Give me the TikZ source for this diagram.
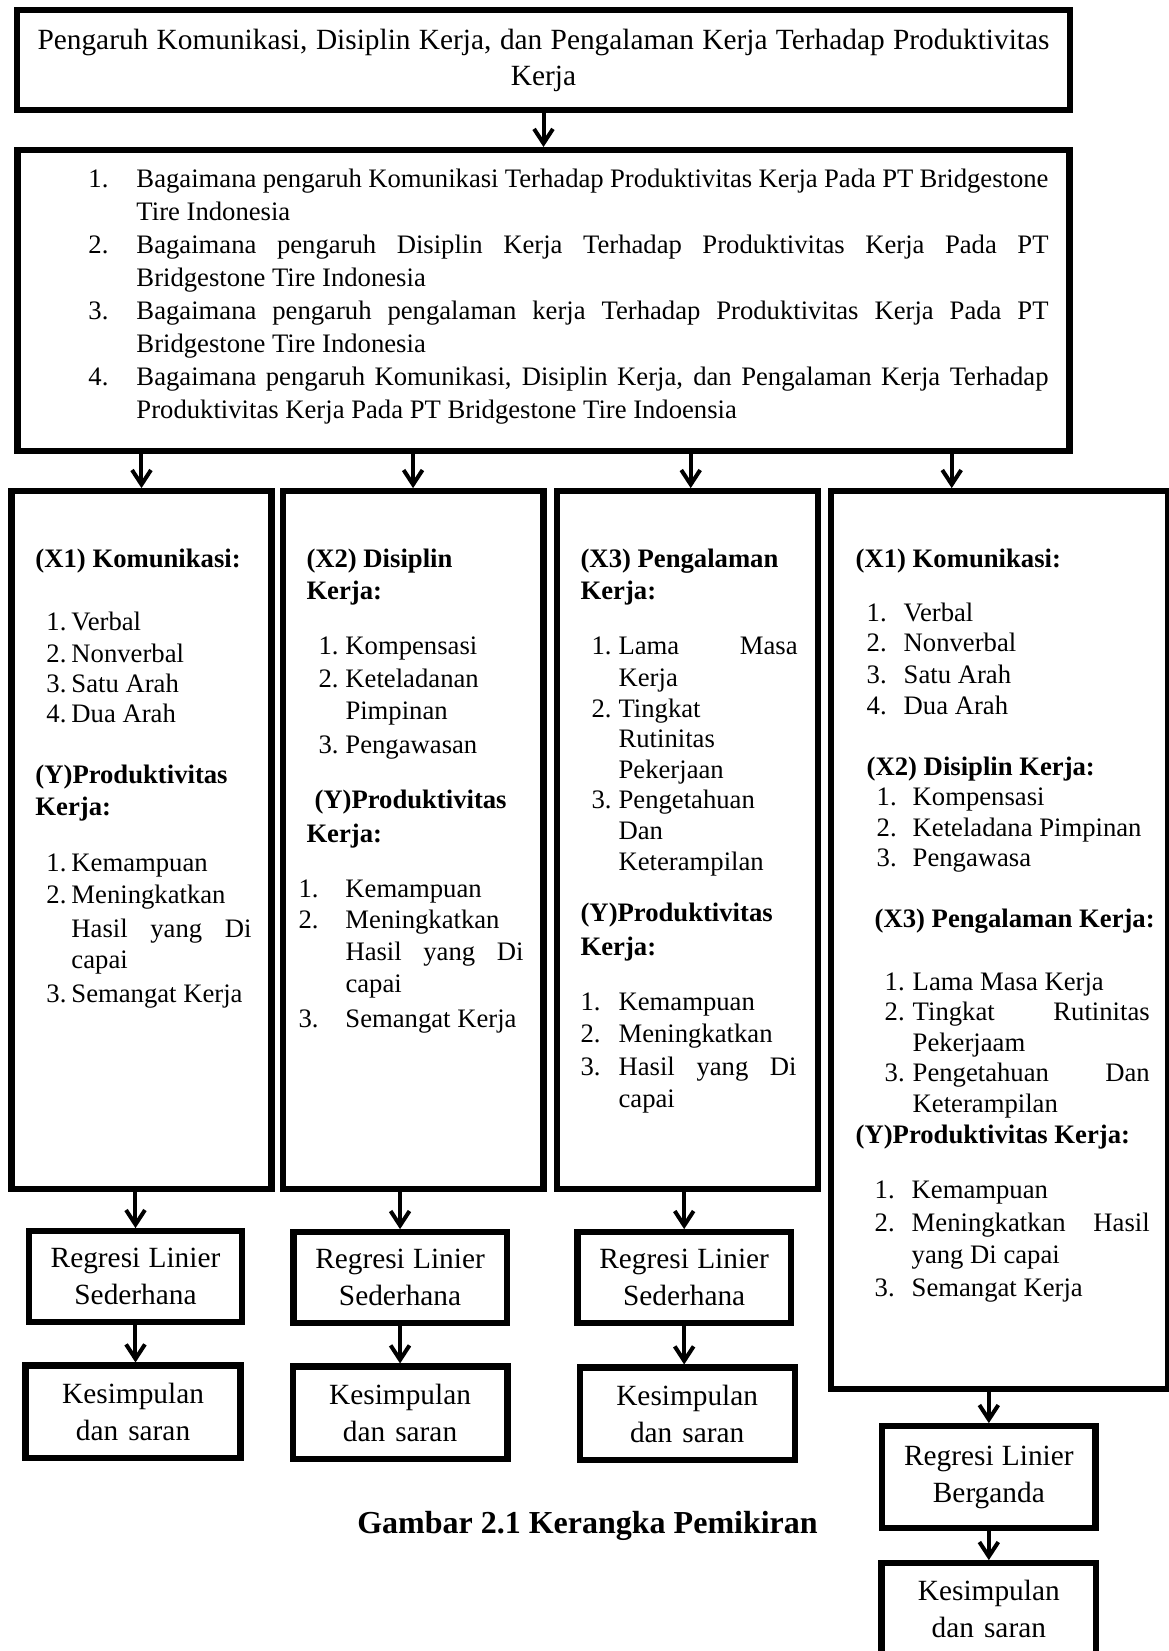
\documentclass[tikz,border=0pt]{standalone}
\usepackage{fontspec}
\setmainfont{Liberation Serif}
\usetikzlibrary{positioning,arrows.meta}

\newlength{\pxl}
\setlength{\pxl}{0.45pt}
\lineskiplimit=-\maxdimen
\newcommand{\spasi}{\spaceskip=0pt\xspaceskip=0pt}
\newcommand{\butir}[3]{\leavevmode\hspace*{#1\pxl}\makebox[#2\pxl][l]{#3}}
\newcommand{\rata}[2]{\makebox[#1\pxl][s]{#2}}
\newcommand{\baris}[1]{\\[#1\pxl]}
\newcommand{\rapat}{\spasi\setlength{\baselineskip}{0pt}\setlength{\lineskiplimit}{-\maxdimen}}

\begin{document}
\begin{tikzpicture}[->,>={Straight Barb[length=6.5pt,width=8.5pt]},line width=1.8pt,x=0.45pt,y=-0.45pt,
  kotak/.style={draw,-,line width=2.8pt,inner sep=0pt,align=center,text width=90pt,font=\fontsize{13.2pt}{16.65pt}\selectfont},
  kolom/.style={draw,-,line width=2.8pt,inner sep=0pt,minimum height=314pt},
  regresi/.style={kotak,minimum width=96pt,minimum height=41pt},
  simpul/.style={kotak,minimum width=96.7pt,minimum height=41.5pt},
  isi/.style={anchor=base west,inner sep=0pt,align=left,font=\fontsize{12pt}{0pt}\selectfont}]

\useasboundingbox (0,0) rectangle (1169,1651);

\node[kotak,minimum width=473.8pt,minimum height=44.9pt,text width=470pt,font=\fontsize{13.2pt}{16.2pt}\selectfont] (t) at (543.5,60)
  {\spasi Pengaruh Komunikasi, Disiplin Kerja, dan Pengalaman Kerja Terhadap Produktivitas\\Kerja};
\node[kotak,below=15.3pt of t,minimum width=473.3pt,minimum height=135.4pt] (q) {};
\node[isi,text width=440pt] (qi) at ([shift={(72,40)}]q.north west) {\rapat
  \butir{0}{48}{1.}\rata{912}{Bagaimana pengaruh Komunikasi Terhadap Produktivitas Kerja Pada PT Bridgestone}\baris{33}
  \hspace*{48\pxl}Tire Indonesia\baris{33}
  \butir{0}{48}{2.}\rata{912}{Bagaimana pengaruh Disiplin Kerja Terhadap Produktivitas Kerja Pada PT}\baris{33}
  \hspace*{48\pxl}Bridgestone Tire Indonesia\baris{33}
  \butir{0}{48}{3.}\rata{912}{Bagaimana pengaruh pengalaman kerja Terhadap Produktivitas Kerja Pada PT}\baris{33}
  \hspace*{48\pxl}Bridgestone Tire Indonesia\baris{33}
  \butir{0}{48}{4.}\rata{912}{Bagaimana pengaruh Komunikasi, Disiplin Kerja, dan Pengalaman Kerja Terhadap}\baris{33}
  \hspace*{48\pxl}Produktivitas Kerja Pada PT Bridgestone Tire Indoensia\par};

% kolom variabel
\node[kolom,below right=15.3pt and -2.7pt of q.south west,minimum width=116.9pt] (c1) {};
\node[kolom,right=2.25pt of c1.north east,anchor=north west,minimum width=117.4pt] (c2) {};
\node[kolom,right=3.15pt of c2.north east,anchor=north west,minimum width=117.4pt] (c3) {};
\node[kolom,right=3.15pt of c3.north east,anchor=north west,minimum width=151.6pt,minimum height=404pt] (c4) {};

\node[isi,text width=104pt] (i1) at ([shift={(25,79)}]c1.north west) {\rapat
  {\bfseries (X1) Komunikasi:}\baris{63}
  \butir{11}{25}{1.}Verbal\baris{32}
  \butir{11}{25}{2.}Nonverbal\baris{30}
  \butir{11}{25}{3.}Satu Arah\baris{30}
  \butir{11}{25}{4.}Dua Arah\baris{61}
  {\bfseries (Y)Produktivitas}\baris{32}
  {\bfseries Kerja:}\baris{56}
  \butir{11}{25}{1.}Kemampuan\baris{32}
  \butir{11}{25}{2.}Meningkatkan\baris{34}
  \hspace*{36\pxl}\rata{180}{Hasil yang Di}\baris{31}
  \hspace*{36\pxl}capai\baris{34}
  \butir{11}{25}{3.}Semangat Kerja\par};

\node[isi,text width=108pt] (i2) at ([shift={(17,79)}]c2.north west) {\rapat
  \hspace*{8\pxl}{\bfseries (X2) Disiplin}\baris{32}
  \hspace*{8\pxl}{\bfseries Kerja:}\baris{55}
  \butir{20}{27}{1.}Kompensasi\baris{33}
  \butir{20}{27}{2.}Keteladanan\baris{32}
  \hspace*{47\pxl}Pimpinan\baris{34}
  \butir{20}{27}{3.}Pengawasan\baris{55}
  \hspace*{16\pxl}{\bfseries (Y)Produktivitas}\baris{34}
  \hspace*{8\pxl}{\bfseries Kerja:}\baris{55}
  \butir{0}{47}{1.}Kemampuan\baris{31}
  \butir{0}{47}{2.}Meningkatkan\baris{32}
  \hspace*{47\pxl}\rata{178}{Hasil yang Di}\baris{32}
  \hspace*{47\pxl}capai\baris{35}
  \butir{0}{47}{3.}Semangat Kerja\par};

\node[isi,text width=103pt] (i3) at ([shift={(25,79)}]c3.north west) {\rapat
  {\bfseries (X3) Pengalaman}\baris{32}
  {\bfseries Kerja:}\baris{55}
  \butir{11}{27}{1.}\rata{179}{Lama Masa}\baris{32}
  \hspace*{38\pxl}Kerja\baris{31}
  \butir{11}{27}{2.}Tingkat\baris{30}
  \hspace*{38\pxl}Rutinitas\baris{31}
  \hspace*{38\pxl}Pekerjaan\baris{30}
  \butir{11}{27}{3.}Pengetahuan\baris{31}
  \hspace*{38\pxl}Dan\baris{31}
  \hspace*{38\pxl}Keterampilan\baris{51}
  {\bfseries (Y)Produktivitas}\baris{34}
  {\bfseries Kerja:}\baris{55}
  \butir{0}{38}{1.}Kemampuan\baris{32}
  \butir{0}{38}{2.}Meningkatkan\baris{33}
  \butir{0}{38}{3.}\rata{178}{Hasil yang Di}\baris{32}
  \hspace*{38\pxl}capai\par};

\node[isi,text width=137pt] (i4) at ([shift={(26,79)}]c4.north west) {\rapat
  {\bfseries (X1) Komunikasi:}\baris{54}
  \butir{11}{37}{1.}Verbal\baris{30}
  \butir{11}{37}{2.}Nonverbal\baris{32}
  \butir{11}{37}{3.}Satu Arah\baris{31}
  \butir{11}{37}{4.}Dua Arah\baris{61}
  \hspace*{11\pxl}{\bfseries (X2) Disiplin Kerja:}\baris{30}
  \butir{21}{36}{1.}Kompensasi\baris{31}
  \butir{21}{36}{2.}Keteladana Pimpinan\baris{30}
  \butir{21}{36}{3.}Pengawasa\baris{61}
  \hspace*{19\pxl}{\bfseries (X3) Pengalaman Kerja:}\baris{63}
  \butir{29}{28}{1.}Lama Masa Kerja\baris{30}
  \butir{29}{28}{2.}\rata{237}{Tingkat Rutinitas}\baris{31}
  \hspace*{57\pxl}Pekerjaam\baris{30}
  \butir{29}{28}{3.}\rata{237}{Pengetahuan Dan}\baris{31}
  \hspace*{57\pxl}Keterampilan\baris{31}
  {\bfseries (Y)Produktivitas Kerja:}\baris{55}
  \butir{19}{37}{1.}Kemampuan\baris{33}
  \butir{19}{37}{2.}\rata{238}{Meningkatkan Hasil}\baris{32}
  \hspace*{56\pxl}yang Di capai\baris{33}
  \butir{19}{37}{3.}Semangat Kerja\par};

% analisis dan kesimpulan
\node[regresi,below=16.2pt of c1,xshift=-2.7pt] (r1) {\spasi Regresi Linier\\Sederhana};
\node[regresi,below=16.65pt of c2,xshift=-5.85pt] (r2) {\spasi Regresi Linier\\Sederhana};
\node[regresi,below=16.65pt of c3,xshift=-1.35pt] (r3) {\spasi Regresi Linier\\Sederhana};
\node[regresi,below=13.95pt of c4,xshift=-4.7pt,minimum height=45.8pt] (r4) {\spasi Regresi Linier\\Berganda};
\node[simpul,below=16.65pt of r1,xshift=-1.1pt] (k1) {\spasi Kesimpulan\\dan saran};
\node[simpul,below=16.65pt of r2] (k2) {\spasi Kesimpulan\\dan saran};
\node[simpul,below=17.1pt of r3,xshift=1.35pt] (k3) {\spasi Kesimpulan\\dan saran};
\node[simpul,below=13.05pt of r4] (k4) {\spasi Kesimpulan\\dan saran};

\node[font=\bfseries\fontsize{14.4pt}{17pt}\selectfont,anchor=base] (cap) at (587.5,1533) {Gambar 2.1 Kerangka Pemikiran};

\coordinate (p3) at ([xshift=1.6pt]c3.north);
\coordinate (p4) at ([xshift=-21.4pt]c4.north);

\draw (t) -- (q);
\draw (q.south -| c1.north) -- (c1.north);
\draw (q.south -| c2.north) -- (c2.north);
\draw (q.south -| p3) -- (p3);
\draw (q.south -| p4) -- (p4);
\draw (c1.south -| r1.north) -- (r1.north);
\draw (c2.south -| r2.north) -- (r2.north);
\draw (c3.south -| r3.north) -- (r3.north);
\draw (c4.south -| r4.north) -- (r4.north);
\draw (r1.south) -- (r1.south |- k1.north);
\draw (r2.south) -- (r2.south |- k2.north);
\draw (r3.south) -- (r3.south |- k3.north);
\draw (r4.south) -- (r4.south |- k4.north);

\end{tikzpicture}
\end{document}
